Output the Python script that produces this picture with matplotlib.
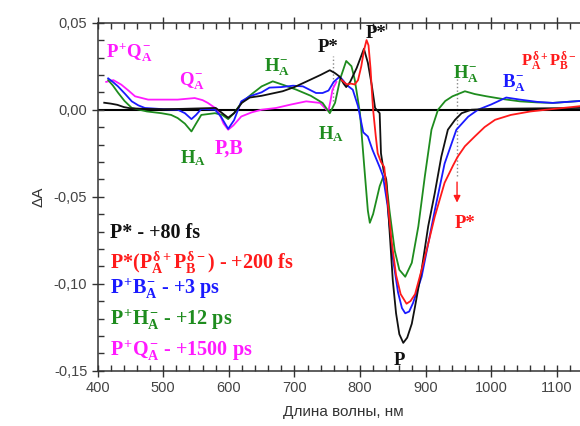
import matplotlib
matplotlib.use("Agg")
import matplotlib.pyplot as plt
from matplotlib.ticker import MultipleLocator, FuncFormatter

plt.rcParams['mathtext.fontset'] = 'custom'
plt.rcParams['mathtext.rm'] = 'Liberation Serif:bold'
plt.rcParams['mathtext.it'] = 'Liberation Serif:bold'
plt.rcParams['mathtext.bf'] = 'Liberation Serif:bold'

# ---- data (wavelength nm, dA) ----
black_wl = [410, 420, 430, 440, 450, 470, 500, 530, 560, 580, 590, 599, 608, 620, 632, 650, 682, 700, 719, 740,
            754, 762, 769, 775, 779, 785, 795, 800, 806, 812, 818, 823, 830, 832, 836, 840, 845, 850, 855, 860,
            866, 872, 879, 884, 894, 904, 914, 924, 934, 945, 955, 970, 1000, 1135]
black_dA = [0.004, 0.0035, 0.0028, 0.0015, 0.0008, 0.0005, 0.0003, 0.0005, 0.0008, 0.001, -0.002, -0.0046, -0.002,
            0.004, 0.007, 0.008, 0.0106, 0.013, 0.0163, 0.020, 0.0227, 0.021, 0.019, 0.015, 0.013, 0.016, 0.024,
            0.029, 0.035, 0.027, 0.014, 0.001, -0.002, -0.025, -0.035, -0.040, -0.069, -0.098, -0.117, -0.129,
            -0.134, -0.131, -0.123, -0.113, -0.092, -0.067, -0.048, -0.027, -0.0115, -0.0058, -0.002, 0.0, 0.0005,
            0.001]

red_wl = [772, 780, 786, 792, 797, 802, 806, 810, 813, 816, 818, 820, 824, 827, 832, 837, 842, 848, 855, 862, 871,
          877, 884, 894, 904, 914, 929, 942, 949, 960, 975, 990, 1006, 1030, 1060, 1084, 1135]
red_dA = [0.017, 0.0145, 0.015, 0.0145, 0.017, 0.025, 0.034, 0.040, 0.037, 0.024, 0.0115, 0.0, -0.015, -0.025,
          -0.030, -0.033, -0.052, -0.075, -0.095, -0.106, -0.1115, -0.110, -0.106, -0.092, -0.077, -0.0615, -0.042,
          -0.032, -0.027, -0.021, -0.0154, -0.010, -0.0058, -0.003, -0.001, 0.0, 0.002]

blue_wl = [416, 423, 431, 442, 452, 462, 472, 500, 522, 533, 543, 550, 558, 579, 588, 599, 608, 619, 632, 650, 662,
           680, 698, 713, 733, 743, 752, 760, 769, 775, 779, 789, 797, 805, 812, 819, 830, 835, 842, 850, 858, 864,
           869, 875, 881, 894, 904, 914, 929, 947, 965, 980, 1000, 1023, 1044, 1070, 1094, 1135]
blue_dA = [0.018, 0.016, 0.0134, 0.009, 0.0048, 0.0025, 0.001, 0.0003, 0.0, -0.002, -0.0054, -0.003, 0.0004, 0.0,
           -0.004, -0.011, -0.006, 0.0048, 0.0077, 0.010, 0.0127, 0.013, 0.0138, 0.0134, 0.0096, 0.0096, 0.011,
           0.016, 0.019, 0.0165, 0.0144, 0.0115, 0.002, -0.013, -0.0154, -0.023, -0.033, -0.038, -0.055, -0.085,
           -0.105, -0.114, -0.117, -0.116, -0.111, -0.096, -0.077, -0.058, -0.031, -0.0115, -0.004, 0.0, 0.003,
           0.007, 0.0058, 0.0045, 0.0039, 0.005]

green_wl = [416, 423, 431, 441, 452, 475, 497, 512, 522, 533, 543, 550, 558, 579, 590, 599, 608, 619, 635, 650, 667,
            685, 703, 725, 743, 754, 762, 770, 779, 787, 792, 800, 807, 812, 815, 820, 825, 830, 835, 840, 845, 853,
            860, 869, 879, 889, 899, 909, 919, 930, 941, 960, 975, 993, 1020, 1044, 1070, 1094, 1135]
green_dA = [0.017, 0.014, 0.0098, 0.005, 0.001, -0.001, -0.002, -0.003, -0.0048, -0.008, -0.0125, -0.008, -0.003,
            -0.002, -0.003, -0.0054, -0.002, 0.0039, 0.009, 0.0134, 0.0163, 0.014, 0.0115, 0.008, 0.0039, -0.002,
            0.004, 0.018, 0.028, 0.025, 0.0173, -0.002, -0.035, -0.058, -0.065, -0.060, -0.052, -0.044, -0.039,
            -0.041, -0.058, -0.081, -0.092, -0.096, -0.088, -0.067, -0.038, -0.0115, 0.0, 0.005, 0.0077, 0.0106,
            0.009, 0.0077, 0.006, 0.0048, 0.0042, 0.0039, 0.005]

mag_wl = [413, 424, 436, 447, 457, 477, 500, 522, 548, 560, 568, 583, 592, 599, 607, 619, 635, 650, 672, 695, 718,
          739, 749, 752, 755, 758, 764]
mag_dA = [0.016, 0.017, 0.0144, 0.011, 0.0077, 0.0058, 0.0058, 0.0058, 0.0067, 0.0055, 0.0039, 0.0, -0.008, -0.0115,
          -0.009, -0.0039, -0.0015, 0.0, 0.001, 0.003, 0.0048, 0.0039, 0.0, -0.0005, 0.005, 0.0115, 0.016]

x_ticks = [400, 500, 600, 700, 800, 900, 1000, 1100]
y_ticks = [-0.15, -0.10, -0.05, 0.00, 0.05]

C_BLACK = '#111111'
C_RED = '#ff1a1a'
C_BLUE = '#1a1aff'
C_GREEN = '#1e8c1e'
C_MAG = '#ff1aff'

fig = plt.figure(figsize=(5.8, 4.26), dpi=100)
ax = fig.add_axes([0.1684, 0.1298, 0.848, 0.8169])

lw = 1.3
ax.axhline(0, color='black', lw=1.5, zorder=1)
ax.plot(mag_wl, mag_dA, color=C_MAG, lw=lw, zorder=2)
ax.plot(green_wl, green_dA, color=C_GREEN, lw=lw, zorder=3)
ax.plot(blue_wl, blue_dA, color=C_BLUE, lw=lw, zorder=4)
ax.plot(black_wl, black_dA, color=C_BLACK, lw=lw, zorder=5)
ax.plot(red_wl, red_dA, color=C_RED, lw=lw, zorder=6)

ax.set_xlim(400, 1150)
ax.set_ylim(-0.15, 0.05)
ax.set_xticks(x_ticks)
ax.set_yticks(y_ticks)
ax.xaxis.set_minor_locator(MultipleLocator(20))
ax.yaxis.set_minor_locator(MultipleLocator(0.01))
ax.yaxis.set_major_formatter(FuncFormatter(lambda v, p: f"{v:.2f}".replace('.', ',').replace('\u2212', '-')))
ax.xaxis.set_major_formatter(FuncFormatter(lambda v, p: f"{int(round(v))}"))
ax.tick_params(which='major', direction='inout', length=8, width=1.0, labelsize=10.5, labelcolor='#444444',
               top=True, right=False, colors='#333333')
ax.tick_params(which='minor', direction='in', length=4, width=1.0, top=True, right=False, colors='#333333')
for s in ['left', 'bottom', 'top', 'right']:
    ax.spines[s].set_color('#333333')
    ax.spines[s].set_linewidth(1.1)
for lab in ax.get_xticklabels() + ax.get_yticklabels():
    lab.set_fontfamily('Liberation Sans')

ax.set_xlabel('Длина волны, нм', fontsize=11, family='Liberation Sans', color='#333333', labelpad=7)
ax.set_ylabel('ΔA', fontsize=11, family='Liberation Sans', color='#333333', labelpad=6)

sf = dict(family='Liberation Serif', fontweight='bold')
fs = 13.5
lfs = 14.5

# annotations
ax.text(412, 0.030, r'$P^{+}Q_{A}^{-}$', color=C_MAG, fontsize=fs, **sf)
ax.text(524, 0.014, r'$Q_{A}^{-}$', color=C_MAG, fontsize=fs, **sf)
ax.text(526, -0.031, r'$H_{A}$', color=C_GREEN, fontsize=fs, **sf)
ax.text(578, -0.025, 'P,B', color=C_MAG, fontsize=fs + 1, **sf)
ax.text(653, 0.022, r'$H_{A}^{-}$', color=C_GREEN, fontsize=fs, **sf)
ax.text(735, 0.033, 'P*', color=C_BLACK, fontsize=fs, **sf)
ax.text(736, -0.017, r'$H_{A}$', color=C_GREEN, fontsize=fs, **sf)
ax.text(808, 0.041, 'P*', color=C_BLACK, fontsize=fs, **sf)
ax.text(852, -0.147, 'P', color=C_BLACK, fontsize=fs, **sf)
ax.text(942, 0.018, r'$H_{A}^{-}$', color=C_GREEN, fontsize=fs, **sf)
ax.text(1016, 0.013, r'$B_{A}^{-}$', color=C_BLUE, fontsize=fs, **sf)
ax.text(1046, 0.025, r'$P_{A}^{δ+}P_{B}^{δ-}$', color=C_RED, fontsize=fs - 1.5, **sf)
ax.text(945, -0.068, 'P*', color=C_RED, fontsize=fs, **sf)

ax.plot([759, 759], [0.005, 0.031], ls=':', color='#888888', lw=1.0, zorder=0)
ax.plot([948, 948], [-0.038, 0.019], ls=':', color='#888888', lw=1.0, zorder=0)
ax.annotate('', xy=(948, -0.055), xytext=(948, -0.040),
            arrowprops=dict(arrowstyle='-|>', color=C_RED, lw=1.0, mutation_scale=10))

# legend-like labels
lx = 419
ax.text(lx, -0.0735, 'P* - +80 fs', color=C_BLACK, fontsize=lfs, **sf)
ax.text(lx, -0.0915, r'P*($P_{A}^{δ+}P_{B}^{δ-}$) - +200 fs', color=C_RED, fontsize=lfs, **sf)
ax.text(lx, -0.106, r'$P^{+}B_{A}^{-}$ - +3 ps', color=C_BLUE, fontsize=lfs, **sf)
ax.text(lx, -0.1235, r'$P^{+}H_{A}^{-}$ - +12 ps', color=C_GREEN, fontsize=lfs, **sf)
ax.text(lx, -0.1415, r'$P^{+}Q_{A}^{-}$ - +1500 ps', color=C_MAG, fontsize=lfs, **sf)

fig.savefig('out.png', dpi=100)
